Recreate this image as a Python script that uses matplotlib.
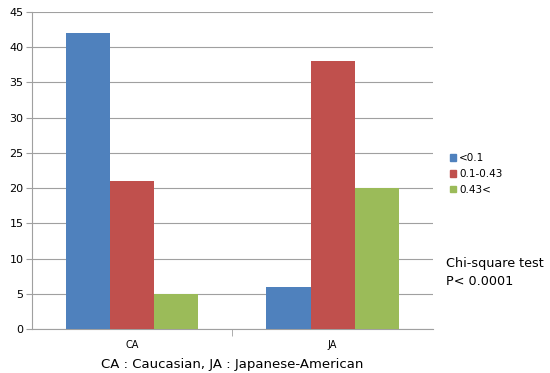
import numpy as np
import matplotlib.pyplot as plt
from matplotlib.patches import Patch

# ── Data ──────────────────────────────────────────────────────────────────────
groups = ['CA', 'JA']
series = ['<0.1', '0.1-0.43', '0.43<']
val_low = [42, 6]
val_mid = [21, 38]
val_high = [5, 20]
colors = ['#4F81BD', '#C0504D', '#9BBB59']

fig = plt.figure(figsize=(5.5, 3.73), dpi=100)
ax = fig.add_axes([0.058, 0.118, 0.729, 0.850])

x = np.arange(len(groups))
w = 0.22
for i, (vals, c) in enumerate(zip([val_low, val_mid, val_high], colors)):
    ax.bar(x + (i - 1) * w, vals, width=w, color=c, zorder=3)

ax.set_xlim(-0.5, 1.5)
ax.set_ylim(0, 45)
ax.set_yticks(np.arange(0, 46, 5))
ax.yaxis.grid(True, color='#a0a0a0', lw=0.8, zorder=0)
ax.set_xticks(x)
ax.set_xticklabels(groups, fontsize=7)
ax.tick_params(axis='x', length=0, pad=8)
ax.tick_params(axis='y', labelsize=8, length=4, color='#a0a0a0', pad=2)
ax.set_xticks([0.5], minor=True)
ax.tick_params(axis='x', which='minor', length=5, color='#a0a0a0')
for s in ['top', 'right']:
    ax.spines[s].set_visible(False)
for s in ['left', 'bottom']:
    ax.spines[s].set_color('#a0a0a0')

ax.set_xlabel('CA : Caucasian, JA : Japanese-American', fontsize=9.5, labelpad=6)

handles = [Patch(color=c, label=l) for c, l in zip(colors, series)]
fig.legend(handles=handles, loc='upper left', bbox_to_anchor=(0.81, 0.6),
           frameon=False, fontsize=7.5, handlelength=0.6, handleheight=0.6,
           handletextpad=0.3, labelspacing=0.55, borderaxespad=0)

fig.text(0.81, 0.27, 'Chi-square test\nP< 0.0001', fontsize=9.2,
         linespacing=1.55, va='center')

fig.savefig('out.png', dpi=100)
